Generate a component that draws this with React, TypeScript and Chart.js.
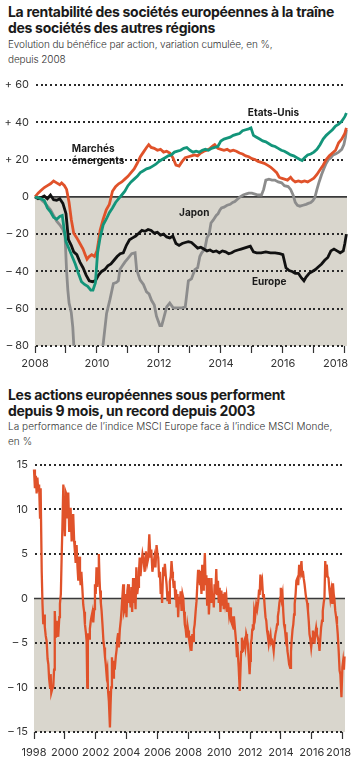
import { useEffect, useRef } from 'react';
import { Chart, registerables } from 'chart.js';

Chart.register(...registerables);

// ---------- Chart 1 : bénéfice par action, variation cumulée depuis 2008 (%) ----------
const topYMin = -80;
const topYMax = 60;
const topXMin = 2008;
const topXMax = 2018.07;

const europe: [number, number][] = [
  [2008.0, 0], [2008.1, -1], [2008.2, -0.5], [2008.3, 0.5], [2008.4, -1], [2008.5, 1], [2008.6, -1.5],
  [2008.7, -1.8], [2008.8, -1], [2008.9, -3.5], [2009.0, -9], [2009.08, -23], [2009.17, -26], [2009.25, -29.5],
  [2009.35, -31], [2009.45, -35], [2009.55, -38], [2009.65, -42], [2009.75, -45], [2009.85, -45.5], [2009.95, -45],
  [2010.05, -42], [2010.15, -40], [2010.25, -39], [2010.35, -37], [2010.45, -36], [2010.55, -34], [2010.65, -32],
  [2010.75, -30.5], [2010.85, -30], [2010.95, -26], [2011.05, -23], [2011.15, -22], [2011.25, -21], [2011.35, -19.5],
  [2011.45, -18], [2011.55, -18.5], [2011.65, -17.5], [2011.75, -18], [2011.85, -19.5], [2011.95, -19], [2012.05, -20.5],
  [2012.15, -20], [2012.25, -21.5], [2012.35, -22], [2012.45, -21], [2012.55, -25], [2012.65, -26], [2012.75, -25],
  [2012.85, -24.5], [2012.95, -24], [2013.05, -24.5], [2013.15, -26], [2013.25, -27.5], [2013.35, -27], [2013.45, -28],
  [2013.55, -29], [2013.65, -28.5], [2013.75, -29.5], [2013.85, -29], [2013.95, -30], [2014.05, -29], [2014.15, -29.5],
  [2014.25, -30.5], [2014.35, -30], [2014.45, -29], [2014.55, -28.5], [2014.65, -28], [2014.75, -27.5], [2014.85, -27],
  [2014.95, -26.5], [2015.05, -29.5], [2015.15, -30], [2015.3, -30], [2015.45, -29.5], [2015.6, -30], [2015.75, -30],
  [2015.9, -30.5], [2016.0, -31], [2016.1, -38], [2016.2, -39.5], [2016.3, -40], [2016.4, -41], [2016.5, -41],
  [2016.6, -43.5], [2016.68, -45], [2016.75, -43], [2016.85, -41], [2016.95, -40], [2017.05, -39], [2017.15, -37.5],
  [2017.25, -36], [2017.35, -34], [2017.45, -32.5], [2017.55, -29], [2017.65, -28], [2017.75, -29], [2017.85, -30],
  [2017.95, -29], [2018.0, -25], [2018.05, -20],
];

const etatsUnis: [number, number][] = [
  [2008.0, 0], [2008.1, -0.5], [2008.2, -1], [2008.3, -2], [2008.4, -6], [2008.5, -8], [2008.6, -11], [2008.7, -12],
  [2008.8, -10.5], [2008.88, -10], [2008.93, -16], [2009.0, -24], [2009.1, -28], [2009.2, -32], [2009.3, -36],
  [2009.4, -41], [2009.5, -45.5], [2009.6, -47], [2009.7, -48], [2009.8, -50], [2009.87, -50], [2009.95, -46],
  [2010.02, -30], [2010.1, -22], [2010.2, -15], [2010.3, -12], [2010.4, -8.5], [2010.5, -6], [2010.6, -3],
  [2010.7, -1], [2010.8, 1], [2010.9, 3], [2011.0, 6], [2011.1, 8], [2011.2, 9.5], [2011.3, 11], [2011.4, 13],
  [2011.5, 14], [2011.6, 15], [2011.7, 15.5], [2011.8, 16.5], [2011.9, 17.5], [2012.0, 19], [2012.1, 20],
  [2012.2, 21], [2012.3, 22], [2012.4, 22.5], [2012.5, 24], [2012.6, 24.5], [2012.7, 25], [2012.8, 26],
  [2012.9, 26.5], [2013.0, 25], [2013.1, 24], [2013.2, 24.5], [2013.3, 24], [2013.4, 25], [2013.5, 25.5],
  [2013.6, 25], [2013.7, 26], [2013.8, 26.5], [2013.9, 27], [2014.0, 30], [2014.1, 31], [2014.2, 31.5],
  [2014.3, 32], [2014.4, 33], [2014.5, 33.5], [2014.6, 34], [2014.7, 35.5], [2014.8, 36], [2014.9, 36.5],
  [2014.97, 37], [2015.05, 33], [2015.15, 32], [2015.25, 31], [2015.35, 30], [2015.45, 29.5], [2015.55, 28.5],
  [2015.65, 27.5], [2015.75, 27], [2015.85, 26], [2015.95, 25], [2016.05, 24.5], [2016.15, 23.5], [2016.25, 22.5],
  [2016.35, 22], [2016.45, 21], [2016.55, 20], [2016.62, 19.5], [2016.7, 21], [2016.8, 22.5], [2016.9, 23],
  [2017.0, 24], [2017.1, 25.5], [2017.2, 28], [2017.3, 31], [2017.4, 33], [2017.5, 34.5], [2017.6, 36],
  [2017.7, 38], [2017.8, 39], [2017.9, 40.5], [2018.0, 43], [2018.05, 45],
];

const emergents: [number, number][] = [
  [2008.0, 0], [2008.1, 2], [2008.2, 3.5], [2008.3, 5], [2008.4, 6], [2008.5, 7], [2008.6, 8.5], [2008.7, 7.5],
  [2008.8, 6.5], [2008.86, 7.5], [2008.95, 6], [2009.02, 4], [2009.1, -3], [2009.17, -12], [2009.25, -19.5],
  [2009.35, -22], [2009.45, -25], [2009.55, -28], [2009.62, -31], [2009.68, -33.5], [2009.75, -32], [2009.83, -31],
  [2009.92, -32], [2010.0, -29], [2010.05, -24], [2010.1, -18], [2010.2, -12], [2010.3, -7], [2010.4, -4],
  [2010.5, 3], [2010.6, 5.5], [2010.7, 7], [2010.8, 8], [2010.9, 9.5], [2011.0, 11], [2011.1, 13], [2011.2, 15],
  [2011.3, 18], [2011.4, 21.5], [2011.5, 24], [2011.6, 26.5], [2011.67, 28], [2011.75, 26.5], [2011.85, 26],
  [2011.95, 25], [2012.05, 25.5], [2012.15, 24], [2012.25, 24.5], [2012.35, 23.5], [2012.45, 21], [2012.55, 17],
  [2012.65, 16.5], [2012.75, 19], [2012.85, 21], [2012.95, 21.5], [2013.05, 22], [2013.15, 22.5], [2013.25, 22],
  [2013.35, 23.5], [2013.45, 24.5], [2013.55, 25], [2013.65, 26], [2013.75, 27.5], [2013.8, 28], [2013.9, 26],
  [2014.0, 25.5], [2014.1, 25], [2014.2, 25.5], [2014.3, 24.5], [2014.4, 25], [2014.5, 24.5], [2014.6, 23.5],
  [2014.7, 23], [2014.8, 22], [2014.9, 21.5], [2015.0, 20.5], [2015.1, 20], [2015.2, 19], [2015.3, 18.5],
  [2015.4, 18], [2015.5, 17], [2015.6, 16], [2015.7, 14.5], [2015.8, 13], [2015.88, 10.5], [2015.95, 10],
  [2016.05, 9.5], [2016.15, 9], [2016.25, 10.5], [2016.32, 9], [2016.4, 8], [2016.5, 8.5], [2016.6, 8],
  [2016.7, 8.5], [2016.8, 8], [2016.9, 9], [2017.0, 10], [2017.1, 12], [2017.2, 14.5], [2017.3, 17], [2017.4, 20],
  [2017.5, 22], [2017.6, 23.5], [2017.7, 25], [2017.8, 29], [2017.9, 31], [2018.0, 34], [2018.05, 37],
];

const japon: [number, number][] = [
  [2008.0, 0], [2008.1, -0.5], [2008.2, -1.5], [2008.3, -3], [2008.4, -5], [2008.5, -7], [2008.6, -10],
  [2008.7, -13], [2008.8, -15], [2008.9, -17.5], [2008.97, -21], [2009.02, -40], [2009.06, -50], [2009.1, -57],
  [2009.17, -62], [2009.22, -70], [2009.27, -85], [2009.45, -105], [2009.7, -110], [2009.95, -100],
  [2010.12, -86], [2010.2, -79], [2010.31, -62.5], [2010.42, -55], [2010.53, -46.5], [2010.62, -46],
  [2010.69, -45], [2010.74, -39], [2010.82, -37], [2010.9, -35], [2011.0, -33], [2011.12, -30.5],
  [2011.23, -30], [2011.28, -39], [2011.39, -44.5], [2011.5, -47], [2011.6, -51], [2011.68, -52],
  [2011.76, -55.5], [2011.85, -58], [2011.92, -64], [2012.03, -69], [2012.09, -69], [2012.14, -66],
  [2012.25, -59], [2012.35, -57], [2012.46, -59.5], [2012.6, -59.5], [2012.75, -59.5], [2012.85, -59],
  [2012.9, -52], [2012.95, -45], [2013.05, -44], [2013.16, -39], [2013.25, -38], [2013.32, -32],
  [2013.38, -30], [2013.48, -28], [2013.55, -22], [2013.62, -20], [2013.68, -14], [2013.75, -12.5],
  [2013.85, -10], [2013.91, -9], [2013.97, -7], [2014.02, -6], [2014.1, -5.5], [2014.2, -4.5], [2014.3, -4],
  [2014.38, -3], [2014.45, -2.5], [2014.55, -1], [2014.62, 0], [2014.72, 1], [2014.8, 1.5], [2014.9, 2],
  [2015.0, 2], [2015.1, 1.5], [2015.2, 1], [2015.31, 1], [2015.38, 4], [2015.45, 9], [2015.55, 9.5],
  [2015.65, 9], [2015.74, 9], [2015.85, 8], [2015.96, 7.5], [2016.05, 6], [2016.17, 5.5], [2016.25, 4],
  [2016.33, 1], [2016.4, -3], [2016.47, -4.5], [2016.55, -5], [2016.65, -4.5], [2016.75, -4], [2016.82, -3.5],
  [2016.9, -3], [2016.97, -2], [2017.03, -0.5], [2017.1, 4], [2017.17, 8], [2017.25, 12], [2017.32, 15],
  [2017.4, 18], [2017.47, 20], [2017.55, 21], [2017.62, 22.5], [2017.7, 23], [2017.8, 24], [2017.9, 25.5],
  [2017.97, 28], [2018.02, 32], [2018.05, 36],
];

// series labels (text, x-year, y-value of text centre)
const topLabels: [string, number, number][] = [
  ['Marchés', 2009.19, 25.5],
  ['émergents', 2009.19, 19],
  ['Etats-Unis', 2014.87, 45],
  ['Japon', 2012.65, -8.6],
  ['Europe', 2015.0, -45.7],
];

// ---------- Chart 2 : MSCI Europe vs MSCI Monde (%) ----------
const botYMin = -15;
const botYMax = 15;
const botXMin = 1998;
const botXMax = 2018.15;

const msciEuropeVsMonde: [number, number][] = [
  [1998.0, 14.5], [1998.06, 12.4], [1998.12, 13.8], [1998.17, 11.8], [1998.22, 13.6], [1998.28, 12], [1998.33, 12.8],
  [1998.39, 9.1], [1998.43, 12.4], [1998.5, 3], [1998.55, -0.6], [1998.6, -2.9], [1998.65, -1.8], [1998.7, -3.2],
  [1998.76, -4.2], [1998.82, -4.8], [1998.88, -6.8], [1998.93, -7.4], [1998.98, -9], [1999.04, -10], [1999.08, -8.5],
  [1999.12, -10.6], [1999.18, -10.2], [1999.25, -9.9], [1999.3, -8], [1999.33, -4], [1999.36, -1.4], [1999.42, -4.4],
  [1999.47, -2.5], [1999.52, -3.6], [1999.57, -4.3], [1999.64, -2.1], [1999.68, -0.6], [1999.74, 0.5], [1999.79, 4.6],
  [1999.84, 8], [1999.9, 12.8], [1999.95, 9.5], [2000.0, 7], [2000.04, 10.5], [2000.07, 11.9], [2000.11, 11.7],
  [2000.15, 9], [2000.22, 11.9], [2000.28, 7.6], [2000.33, 9.5], [2000.37, 10.2], [2000.44, 6.4], [2000.49, 8],
  [2000.54, 9.5], [2000.6, 6.5], [2000.65, 5.3], [2000.7, 4], [2000.76, 6], [2000.82, 3.5], [2000.87, 2],
  [2000.93, 4.7], [2000.98, 2.5], [2001.02, 1.5], [2001.07, 3], [2001.13, 1.2], [2001.19, -0.7], [2001.25, -1.5],
  [2001.3, -2.9], [2001.36, -3.8], [2001.41, -4.8], [2001.45, -10], [2001.49, -5], [2001.52, -3.9], [2001.57, -4.5],
  [2001.62, -3.4], [2001.68, -2.5], [2001.73, -2], [2001.79, -1.5], [2001.84, -2.7], [2001.9, -1.2], [2001.95, 1.6],
  [2002.0, 0.5], [2002.05, 3.5], [2002.1, 1.3], [2002.15, 3], [2002.2, 5], [2002.25, 2], [2002.28, 0.9],
  [2002.33, -0.5], [2002.38, -1.4], [2002.44, -3], [2002.5, -4.8], [2002.55, -5.5], [2002.6, -6.6], [2002.65, -7.4],
  [2002.7, -8.5], [2002.75, -8], [2002.8, -10.4], [2002.85, -11.5], [2002.92, -14.5], [2002.96, -12], [2003.0, -10],
  [2003.05, -6.6], [2003.12, -8.9], [2003.18, -7], [2003.23, -8], [2003.3, -6.5], [2003.35, -5.8], [2003.4, -4.5],
  [2003.45, -3.9], [2003.5, -5.5], [2003.56, -3.5], [2003.62, -2.5], [2003.67, -1.4], [2003.72, 0], [2003.78, 1.6],
  [2003.83, -1.5], [2003.89, -1.1], [2003.94, 0.5], [2003.99, -2.1], [2004.05, 0.9], [2004.1, 1.6], [2004.15, -0.5],
  [2004.2, 0.3], [2004.26, -1], [2004.31, 1.3], [2004.36, -1.5], [2004.42, 2.3], [2004.47, -0.5], [2004.53, 0.8],
  [2004.58, -1.2], [2004.63, 3.5], [2004.69, 0.5], [2004.74, 1.3], [2004.8, 3], [2004.85, 4.6], [2004.9, 2.5],
  [2004.96, 3.9], [2005.03, 5], [2005.1, 4.3], [2005.17, 3], [2005.25, 5.3], [2005.33, 3.9], [2005.4, 4.5],
  [2005.47, 7.2], [2005.54, 4.6], [2005.6, 5.5], [2005.67, 3], [2005.74, 3.8], [2005.8, 4.6], [2005.87, 3.5],
  [2005.94, 6], [2006.0, 5], [2006.05, 4.6], [2006.1, 2.5], [2006.16, 3], [2006.21, 0.5], [2006.26, 1.6],
  [2006.3, -0.5], [2006.37, 3.5], [2006.42, 2.5], [2006.48, 3.9], [2006.54, 2.5], [2006.59, 1.6], [2006.65, -0.3],
  [2006.7, 0.8], [2006.75, -0.5], [2006.8, 1.9], [2006.86, 2.5], [2006.91, 4.2], [2006.96, 3], [2007.0, 2.3],
  [2007.05, 1.2], [2007.1, 2], [2007.15, 0], [2007.2, 1], [2007.24, -1], [2007.3, 0.5], [2007.34, -2.1],
  [2007.4, 0.2], [2007.45, -0.6], [2007.5, 0.8], [2007.56, -1.4], [2007.62, 0.5], [2007.67, 0.1], [2007.72, -1.5],
  [2007.77, -2.9], [2007.83, -3.5], [2007.88, -4.4], [2007.94, -3], [2007.99, -3.6], [2008.04, -4.5], [2008.09, -5.1],
  [2008.15, -4.2], [2008.2, -5.9], [2008.26, -4], [2008.31, -4.8], [2008.36, -3.5], [2008.41, -2.9], [2008.47, -1.5],
  [2008.53, -0.3], [2008.58, 1.5], [2008.63, 3.1], [2008.7, 3.1], [2008.75, 1.5], [2008.8, 2.3], [2008.85, 0.5],
  [2008.9, 3.8], [2008.95, 1], [2009.0, 2], [2009.07, 5.1], [2009.12, 1.5], [2009.17, 2.6], [2009.22, -0.8],
  [2009.28, 2.3], [2009.33, -1.8], [2009.4, 0.9], [2009.45, -0.5], [2009.49, 2.3], [2009.55, -0.5], [2009.6, 0.5],
  [2009.65, -1], [2009.7, 1.6], [2009.75, 0.5], [2009.81, 3.3], [2009.86, 0.5], [2009.92, 2], [2009.97, -0.5],
  [2010.03, 1.2], [2010.08, -1.5], [2010.14, 0.9], [2010.2, -0.8], [2010.25, 0.5], [2010.3, -1.2], [2010.35, 0.7],
  [2010.4, -0.5], [2010.46, 0.2], [2010.52, -1.5], [2010.58, -0.5], [2010.64, -1.8], [2010.7, -1], [2010.76, -2.5],
  [2010.84, -2.9], [2010.9, -2], [2010.95, -3.5], [2011.0, -3], [2011.05, -4], [2011.1, -5], [2011.15, -6.6],
  [2011.2, -6], [2011.26, -7.7], [2011.33, -10.4], [2011.37, -8.5], [2011.42, -6], [2011.47, -4.4], [2011.52, -6],
  [2011.58, -5.1], [2011.63, -4.8], [2011.69, -5.5], [2011.75, -4], [2011.8, -4.4], [2011.85, -5], [2011.9, -6.3],
  [2011.97, -8.5], [2012.01, -7], [2012.05, -5.1], [2012.1, -4.5], [2012.14, -3.5], [2012.18, -2.9], [2012.23, -3.5],
  [2012.27, -1.4], [2012.33, -2], [2012.4, -0.7], [2012.46, -1.2], [2012.53, -0.3], [2012.58, 1], [2012.62, 0.4],
  [2012.67, 2.7], [2012.72, 1.5], [2012.78, 2], [2012.84, 0.2], [2012.89, 0.5], [2012.95, -1], [2013.0, -2.1],
  [2013.05, -2.5], [2013.1, -3.6], [2013.15, -4.2], [2013.21, -5.1], [2013.26, -4.5], [2013.32, -4], [2013.37, -5],
  [2013.43, -4.8], [2013.48, -5.2], [2013.53, -5.9], [2013.58, -4.8], [2013.64, -4], [2013.7, -3.5], [2013.75, -2.9],
  [2013.8, -2], [2013.85, -1.4], [2013.9, -0.5], [2013.96, 0.1], [2013.99, 1.2], [2014.05, 0], [2014.1, 0.5],
  [2014.15, -1.5], [2014.2, -2.9], [2014.26, -3.5], [2014.31, -4.4], [2014.36, -3.8], [2014.42, -5.9], [2014.47, -6.5],
  [2014.53, -7.4], [2014.6, -7.8], [2014.65, -6], [2014.69, -4.8], [2014.75, -3.5], [2014.8, -2.9], [2014.85, -1.8],
  [2014.89, -0.6], [2014.95, 0.5], [2015.0, 2], [2015.07, 2.3], [2015.12, 1.5], [2015.18, 3.8], [2015.25, 3],
  [2015.33, 4.2], [2015.38, 2.5], [2015.42, 3.1], [2015.48, 2.2], [2015.53, 1.6], [2015.6, 0.5], [2015.64, 0],
  [2015.7, -0.5], [2015.75, -1.4], [2015.8, -2.5], [2015.85, -4], [2015.9, -4.5], [2015.96, -5.5], [2016.02, -4.5],
  [2016.07, -3.6], [2016.12, -4.2], [2016.17, -5.1], [2016.22, -4], [2016.28, -3.3], [2016.33, -4], [2016.39, -4.4],
  [2016.45, -5], [2016.5, -5.9], [2016.55, -4.5], [2016.6, -3.3], [2016.66, -2.5], [2016.71, -1.4], [2016.77, -0.5],
  [2016.82, 0.1], [2016.87, 4.2], [2016.92, 2.5], [2016.97, 3.8], [2017.02, 2.5], [2017.08, 2.3], [2017.14, 1],
  [2017.2, 0], [2017.26, 0.8], [2017.32, -0.5], [2017.37, 1.7], [2017.42, 0.5], [2017.46, 0], [2017.52, -1.4],
  [2017.57, -2], [2017.63, -2.9], [2017.68, -4], [2017.74, -5.9], [2017.8, -8.1], [2017.85, -8.5], [2017.92, -11.1],
  [2017.98, -7.7], [2018.03, -7], [2018.08, -8], [2018.12, -6.5],
];

// ---------- styling ----------
const FONT = 'Inter, "Noto Sans", sans-serif';
const ORANGE = '#e0522a';
const TEAL = '#13957a';
const BLACK = '#111111';
const GREY = '#8c8c8c';
const SHADE = '#d9d6cd';
const INK = '#333333';

const toXY = (arr: [number, number][]) => arr.map(([x, y]) => ({ x, y }));

const fmtTop = (v: number) => (v > 0 ? '+ ' + v : v < 0 ? '– ' + -v : '0');
const fmtBot = (v: number) => (v < 0 ? '– ' + -v : String(v));

// shaded negative zone + dotted gridlines (from the y scale ticks) + solid zero line
const framePlugin = {
  id: 'frame',
  beforeDatasetsDraw(chart: any) {
    const { ctx, chartArea, scales } = chart;
    const y = scales.y;
    const y0 = y.getPixelForValue(0);
    const yb = y.getPixelForValue(y.min);
    ctx.save();
    ctx.fillStyle = SHADE;
    ctx.fillRect(chartArea.left, y0, chartArea.right - chartArea.left, yb - y0);
    const ticks: any[] = y.getTicks ? y.getTicks() : y.ticks;
    ctx.fillStyle = '#2a2a2a';
    for (const t of ticks) {
      if (t.value === 0) continue;
      const py = Math.round(y.getPixelForValue(t.value));
      for (let x = chartArea.left + 1; x < chartArea.right - 1; x += 4.7) {
        ctx.fillRect(Math.round(x), py - 1, 2, 2);
      }
    }
    ctx.strokeStyle = '#3a3a3a';
    ctx.lineWidth = 1.6;
    ctx.beginPath();
    ctx.moveTo(chartArea.left, y0);
    ctx.lineTo(chartArea.right, y0);
    ctx.stroke();
    ctx.restore();
  },
};

function xLabelsPlugin(show: (v: number) => boolean, rightLimit: number, dy: number) {
  return {
    id: 'xlabels',
    afterDraw(chart: any) {
      const { ctx, chartArea, scales } = chart;
      const sx = scales.x;
      ctx.save();
      ctx.font = `400 11px ${FONT}`;
      ctx.fillStyle = INK;
      ctx.textBaseline = 'middle';
      ctx.textAlign = 'center';
      sx.ticks.forEach((t: any) => {
        if (!show(t.value)) return;
        const label = String(Math.round(t.value));
        const w = ctx.measureText(label).width;
        let cx = sx.getPixelForValue(t.value);
        if (cx + w / 2 > rightLimit) cx = rightLimit - w / 2;
        ctx.fillText(label, cx, chartArea.bottom + dy);
      });
      ctx.restore();
    },
  };
}

const seriesLabelPlugin = {
  id: 'serieslabels',
  afterDatasetsDraw(chart: any) {
    const { ctx, scales } = chart;
    ctx.save();
    ctx.font = `700 10px ${FONT}`;
    ctx.fillStyle = '#1a1a1a';
    ctx.textBaseline = 'middle';
    ctx.textAlign = 'left';
    topLabels.forEach(([txt, x, y]) => {
      ctx.fillText(txt, scales.x.getPixelForValue(x), scales.y.getPixelForValue(y));
    });
    ctx.restore();
  },
};

function baseScales(o: {
  xMin: number; xMax: number; xStep: number; yMin: number; yMax: number; yStep: number;
  yWidth: number; xHeight: number; fmt: (v: number) => string;
}) {
  return {
    x: {
      type: 'linear',
      min: o.xMin,
      max: o.xMax,
      afterFit: (s: any) => { s.height = o.xHeight; },
      border: { display: false },
      grid: {
        drawOnChartArea: false,
        drawTicks: true,
        tickLength: 7,
        tickColor: INK,
        tickWidth: 1.2,
      },
      ticks: { display: false, stepSize: o.xStep, includeBounds: false },
    },
    y: {
      type: 'linear',
      min: o.yMin,
      max: o.yMax,
      afterFit: (s: any) => { s.width = o.yWidth; },
      border: { display: false },
      grid: { display: false, drawTicks: false },
      ticks: {
        stepSize: o.yStep,
        padding: 6,
        color: INK,
        font: { family: FONT, size: 11, weight: 400 },
        callback: (v: any) => o.fmt(Number(v)),
      },
    },
  };
}

export default function App() {
  const topRef = useRef<HTMLCanvasElement>(null);
  const botRef = useRef<HTMLCanvasElement>(null);

  useEffect(() => {
    const line = (label: string, data: [number, number][], color: string, w: number) => ({
      label,
      data: toXY(data),
      borderColor: color,
      borderWidth: w,
      pointRadius: 0,
      tension: 0,
      fill: false,
      clip: { left: 3, right: 3, top: 3, bottom: 0 },
    });

    const top = new Chart(topRef.current as HTMLCanvasElement, {
      type: 'line',
      data: {
        datasets: [
          line('Etats-Unis', etatsUnis, TEAL, 2.8),
          line('Marchés émergents', emergents, ORANGE, 2.8),
          line('Europe', europe, BLACK, 2.8),
          line('Japon', japon, GREY, 2.8),
        ],
      },
      options: {
        animation: false,
        responsive: true,
        maintainAspectRatio: false,
        layout: { padding: { top: 15, right: 8, left: 0, bottom: 0 } },
        plugins: { legend: { display: false }, tooltip: { enabled: false } },
        scales: baseScales({
          xMin: topXMin, xMax: topXMax, xStep: 1, yMin: topYMin, yMax: topYMax, yStep: 20,
          yWidth: 35, xHeight: 29, fmt: fmtTop,
        }) as any,
      },
      plugins: [framePlugin, seriesLabelPlugin, xLabelsPlugin((v) => Math.round(v) % 2 === 0, 348, 18)],
    });

    const bot = new Chart(botRef.current as HTMLCanvasElement, {
      type: 'line',
      data: {
        datasets: [line('MSCI Europe / MSCI Monde', msciEuropeVsMonde, ORANGE, 2.3)],
      },
      options: {
        animation: false,
        responsive: true,
        maintainAspectRatio: false,
        layout: { padding: { top: 15, right: 10, left: 0, bottom: 0 } },
        plugins: { legend: { display: false }, tooltip: { enabled: false } },
        scales: baseScales({
          xMin: botXMin, xMax: botXMax, xStep: 2, yMin: botYMin, yMax: botYMax, yStep: 5,
          yWidth: 34, xHeight: 38, fmt: fmtBot,
        }) as any,
      },
      plugins: [framePlugin, xLabelsPlugin(() => true, 351, 21)],
    });

    return () => {
      top.destroy();
      bot.destroy();
    };
  }, []);

  const title: React.CSSProperties = {
    position: 'absolute', left: 8, width: 345, fontFamily: FONT, fontWeight: 700,
    fontSize: 14, lineHeight: '16px', color: '#1a1a1a', letterSpacing: '-0.3px', whiteSpace: 'nowrap',
  };
  const sub: React.CSSProperties = {
    position: 'absolute', left: 8, width: 345, fontFamily: FONT, fontWeight: 300,
    fontSize: 10, lineHeight: '15px', color: '#333', whiteSpace: 'nowrap', letterSpacing: '-0.1px',
  };

  return (
    <div style={{ position: 'absolute', left: 0, top: 0, width: 355, height: 770, background: '#fff', overflow: 'hidden' }}>
      <div style={{ ...title, top: 4 }}>
        La rentabilité des sociétés européennes à la traîne<br />des sociétés des autres régions
      </div>
      <div style={{ ...sub, top: 37 }}>
        Evolution du bénéfice par action, variation cumulée, en %,<br />depuis 2008
      </div>
      <div style={{ position: 'absolute', left: 0, top: 70, width: 355, height: 305 }}>
        <canvas ref={topRef} />
      </div>
      <div style={{ ...title, top: 387 }}>
        Les actions européennes sous performent<br />depuis 9 mois, un record depuis 2003
      </div>
      <div style={{ ...sub, top: 419, letterSpacing: '0.05px' }}>
        La performance de l’indice MSCI Europe face à l’indice MSCI Monde,<br />en %
      </div>
      <div style={{ position: 'absolute', left: 0, top: 450, width: 355, height: 320 }}>
        <canvas ref={botRef} />
      </div>
    </div>
  );
}
